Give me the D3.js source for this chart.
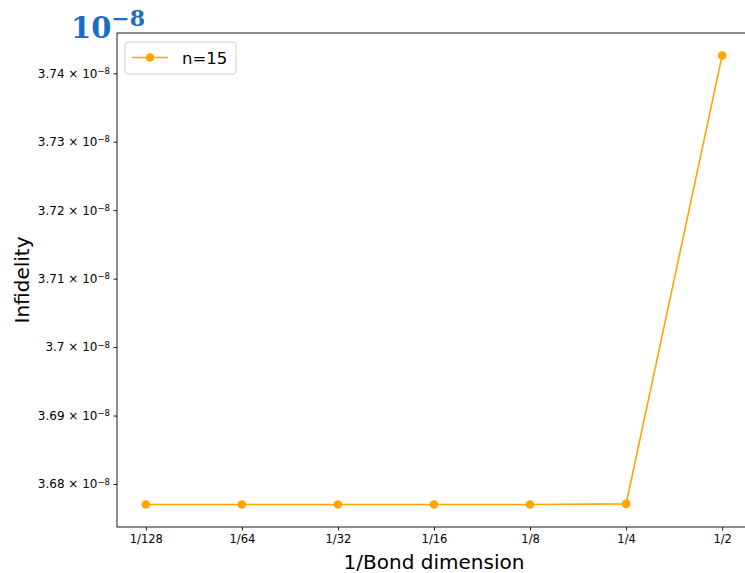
<!DOCTYPE html>
<html>
<head>
<meta charset="utf-8">
<script src="https://cdn.jsdelivr.net/npm/d3@7"></script>
<style>
  html, body { margin: 0; padding: 0; background: #fff; }
  svg { display: block; font-family: "DejaVu Sans", sans-serif; }
</style>
</head>
<body>
<svg id="chart" width="745" height="573"></svg>
<script>
// Infidelity versus inverse bond dimension, n = 15
const categories = ["1/128", "1/64", "1/32", "1/16", "1/8", "1/4", "1/2"];
const infidelity = [3.6770e-8, 3.6770e-8, 3.6770e-8, 3.6770e-8, 3.6770e-8, 3.6771e-8, 3.7426e-8];
const yTicks = [3.68e-8, 3.69e-8, 3.70e-8, 3.71e-8, 3.72e-8, 3.73e-8, 3.74e-8];
const yTickMantissa = ["3.68", "3.69", "3.7", "3.71", "3.72", "3.73", "3.74"];
const seriesName = "n=15";

const color = "#FFA500";
const svg = d3.select("#chart");
const margin = { left: 117, top: 33, right: 751, bottom: 527 };

// x: category index with 5% padding on each side
const xPad = (categories.length - 1) * 0.05;
const x = d3.scaleLinear()
  .domain([-xPad, categories.length - 1 + xPad])
  .range([margin.left, margin.right]);

const [ymin, ymax] = d3.extent(infidelity);
const yPad = (ymax - ymin) * 0.05;
const y = d3.scaleLinear()
  .domain([ymin - yPad, ymax + yPad])
  .range([margin.bottom, margin.top]);

// frame
svg.append("rect")
  .attr("x", margin.left).attr("y", margin.top)
  .attr("width", margin.right - margin.left)
  .attr("height", margin.bottom - margin.top)
  .attr("fill", "none").attr("stroke", "#000").attr("stroke-width", 0.9);

// x axis
const xAxis = d3.axisBottom(x)
  .tickValues(d3.range(categories.length))
  .tickFormat(i => categories[i])
  .tickSize(3.5).tickPadding(4);
const gx = svg.append("g").attr("transform", `translate(0,${margin.bottom})`).call(xAxis);
gx.select(".domain").remove();
gx.selectAll(".tick line").attr("stroke", "#000").attr("stroke-width", 0.9);
gx.selectAll(".tick text").attr("font-size", "11.5px").attr("fill", "#000")
  .attr("font-family", "DejaVu Sans, sans-serif");

// y axis with scientific labels
const yAxis = d3.axisLeft(y)
  .tickValues(yTicks)
  .tickFormat("")
  .tickSize(3.5);
const gy = svg.append("g").attr("transform", `translate(${margin.left},0)`).call(yAxis);
gy.select(".domain").remove();
gy.selectAll(".tick line").attr("stroke", "#000").attr("stroke-width", 0.9);
gy.selectAll(".tick").each(function (d, i) {
  const t = d3.select(this).select("text")
    .attr("x", -7).attr("dy", "0.32em")
    .attr("font-size", "12px").attr("fill", "#000")
    .attr("font-family", "DejaVu Sans, sans-serif")
    .attr("text-anchor", "end");
  t.text(null);
  t.append("tspan").text(yTickMantissa[i] + " \u00d7 10");
  t.append("tspan").attr("dy", "-0.45em").attr("font-size", "8.5px").text("\u22128");
});

// line + markers
const pts = infidelity.map((v, i) => [x(i), y(v)]);
svg.append("path")
  .attr("d", d3.line()(pts))
  .attr("fill", "none").attr("stroke", color).attr("stroke-width", 1.6);
svg.selectAll("circle.pt").data(pts).enter().append("circle")
  .attr("class", "pt")
  .attr("cx", d => d[0]).attr("cy", d => d[1]).attr("r", 4.3)
  .attr("fill", color);

// axis titles
svg.append("text")
  .attr("x", (margin.left + margin.right) / 2).attr("y", 569)
  .attr("text-anchor", "middle").attr("font-size", "20px").attr("fill", "#000")
  .text("1/Bond dimension");
svg.append("text")
  .attr("transform", `translate(29,${(margin.top + margin.bottom) / 2}) rotate(-90)`)
  .attr("text-anchor", "middle").attr("font-size", "20px").attr("fill", "#000")
  .text("Infidelity");

// offset exponent
const off = svg.append("text")
  .attr("x", 71).attr("y", 38)
  .attr("font-family", "DejaVu Serif, serif").attr("font-weight", "bold")
  .attr("font-size", "29px").attr("fill", "#1a6fc4");
off.append("tspan").text("10");
off.append("tspan").attr("dy", "-12").attr("font-size", "22px").text("\u22128");

// legend
const lg = svg.append("g").attr("transform", "translate(125,42)");
lg.append("rect").attr("width", 111).attr("height", 32).attr("rx", 3)
  .attr("fill", "#fff").attr("fill-opacity", 0.8)
  .attr("stroke", "#d0d0d0").attr("stroke-width", 1);
lg.append("line").attr("x1", 7).attr("x2", 43).attr("y1", 15.5).attr("y2", 15.5)
  .attr("stroke", color).attr("stroke-width", 1.6);
lg.append("circle").attr("cx", 25).attr("cy", 15.5).attr("r", 4.3).attr("fill", color);
lg.append("text").attr("x", 57).attr("y", 21.5).attr("font-size", "16.5px").attr("fill", "#000")
  .text(seriesName);
</script>
</body>
</html>
